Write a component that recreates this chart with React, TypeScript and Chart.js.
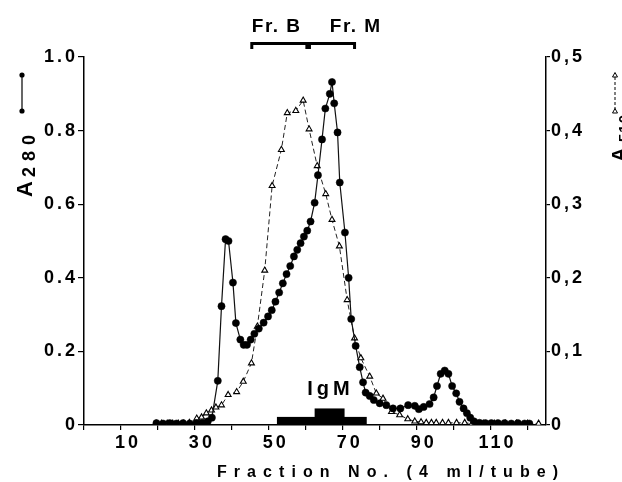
import React, { useEffect, useRef } from "react";
import { Chart, registerables } from "chart.js";

Chart.register(...registerables);

// ---- data ----
const a280X = [19.6, 21.4, 23.2, 25, 26.8, 28.6, 30.4, 32, 33.5, 34.6, 36.2, 37.2, 38.3, 39.1, 40.3, 41.1, 42.3, 43.2, 44.1, 45.1, 46.1, 47.3, 48.6, 49.8, 50.8, 51.8, 52.8, 53.8, 54.8, 55.8, 56.8, 57.7, 58.6, 59.5, 60.4, 61.3, 62.4, 63.3, 64.4, 65.3, 66.5, 67.1, 67.7, 68.6, 69.2, 70.6, 71.6, 72.3, 73.5, 74.6, 75.5, 76.2, 77.3, 78.4, 80, 81.8, 83.6, 85.6, 87.7, 89.5, 90.6, 91.9, 93.5, 94.6, 95.5, 96.5, 97.6, 98.6, 99.6, 100.7, 101.6, 102.7, 103.6, 104.5, 105.5, 107, 108.6, 110.2, 112, 113.8, 115.6, 117.4, 119.2, 120.5];
const a280Y = [0.005, 0.004, 0.005, 0.004, 0.005, 0.004, 0.005, 0.006, 0.01, 0.02, 0.12, 0.323, 0.505, 0.5, 0.387, 0.277, 0.232, 0.218, 0.218, 0.232, 0.248, 0.262, 0.278, 0.295, 0.312, 0.335, 0.36, 0.385, 0.41, 0.432, 0.458, 0.476, 0.494, 0.512, 0.528, 0.553, 0.604, 0.679, 0.776, 0.86, 0.9, 0.932, 0.874, 0.795, 0.659, 0.523, 0.4, 0.288, 0.215, 0.157, 0.116, 0.088, 0.079, 0.068, 0.059, 0.054, 0.045, 0.045, 0.054, 0.052, 0.043, 0.049, 0.057, 0.075, 0.106, 0.139, 0.148, 0.139, 0.106, 0.086, 0.063, 0.045, 0.032, 0.02, 0.01, 0.006, 0.005, 0.005, 0.005, 0.005, 0.004, 0.005, 0.004, 0.004];

const a510X = [19.5, 21, 22.5, 24, 25.5, 27, 28.5, 30.5, 31.8, 33.1, 34.5, 35.7, 37.2, 39, 41.3, 43.1, 45.3, 46.9, 48.9, 50.9, 53.4, 55, 57.3, 59.3, 60.9, 63.1, 65.4, 67.1, 69.1, 71.2, 73.2, 74.9, 77.3, 79.1, 80.9, 83.2, 85.4, 87.6, 89.5, 91.2, 92.6, 94, 95.3, 97, 98.6, 100.8, 103, 105, 108, 111, 114, 117, 120, 123];
const a510Y = [0.002, 0.002, 0.002, 0.002, 0.002, 0.002, 0.003, 0.009, 0.0105, 0.016, 0.02, 0.024, 0.027, 0.041, 0.045, 0.059, 0.084, 0.134, 0.21, 0.325, 0.374, 0.424, 0.427, 0.441, 0.402, 0.352, 0.314, 0.279, 0.243, 0.17, 0.118, 0.091, 0.066, 0.043, 0.036, 0.018, 0.0136, 0.008, 0.005, 0.004, 0.003, 0.003, 0.003, 0.003, 0.003, 0.003, 0.003, 0.002, 0.002, 0.002, 0.002, 0.002, 0.002, 0.002];

const xTickValues = [0, 10, 20, 30, 40, 50, 60, 70, 80, 90, 100, 110, 120];
const xTickLabels = ["", "10", "", "30", "", "50", "", "70", "", "90", "", "110", ""];
const leftTickValues = [0, 0.2, 0.4, 0.6, 0.8, 1.0];
const leftTickLabels = ["0", "0.2", "0.4", "0.6", "0.8", "1.0"];
const rightTickValues = [0, 0.1, 0.2, 0.3, 0.4, 0.5];
const rightTickLabels = ["0", "0,1", "0,2", "0,3", "0,4", "0,5"];

const fractionNames = ["Fr. B", "Fr. M"];
const fractionStart = [45.4, 61.0];
const fractionEnd = [60.3, 73.2];
const fractionLabelX = [45.4, 66.5];

const igmStart = [52.2, 62.4];
const igmEnd = [76.5, 70.5];
const igmTop = [0.022, 0.045];
const igmLabel = "IgM";
const igmLabelX = 60.4;

const xTitle = "Fraction No. (4 ml/tube)";

const FONT = "'Liberation Sans', Arial, Helvetica, sans-serif";

function drawText(ctx: CanvasRenderingContext2D, text: string, x: number, y: number, font: string, spacing: number) {
  ctx.font = font;
  (ctx as any).letterSpacing = spacing + "px";
  ctx.textAlign = "left";
  ctx.textBaseline = "alphabetic";
  ctx.fillText(text, x, y);
}

const decorPlugin = {
  id: "decor",
  beforeDraw(chart: any) {
    (chart.ctx as any).letterSpacing = "3px";
  },
  beforeDatasetsDraw(chart: any) {
    const ctx = chart.ctx as CanvasRenderingContext2D;
    const xs = chart.scales.x;
    const ys = chart.scales.y;
    ctx.save();
    ctx.fillStyle = "#000";
    for (let i = 0; i < igmStart.length; i++) {
      const x0 = xs.getPixelForValue(igmStart[i]);
      const x1 = xs.getPixelForValue(igmEnd[i]);
      const y0 = ys.getPixelForValue(igmTop[i]);
      const y1 = ys.getPixelForValue(0);
      ctx.fillRect(x0, y0, x1 - x0, y1 - y0);
    }
    ctx.restore();
  },
  afterDraw(chart: any) {
    const ctx = chart.ctx as CanvasRenderingContext2D;
    const xs = chart.scales.x;
    const ys = chart.scales.y;
    const top = chart.chartArea.top;
    ctx.save();
    ctx.fillStyle = "#000";
    ctx.strokeStyle = "#000";

    // fraction brackets
    for (let i = 0; i < fractionNames.length; i++) {
      const x0 = xs.getPixelForValue(fractionStart[i]);
      const x1 = xs.getPixelForValue(fractionEnd[i]);
      const yb = top - 13.5;
      ctx.lineWidth = 3;
      ctx.beginPath();
      ctx.moveTo(x0, yb + 5.5);
      ctx.lineTo(x0, yb);
      ctx.lineTo(x1, yb);
      ctx.lineTo(x1, yb + 5.5);
      ctx.stroke();
      drawText(ctx, fractionNames[i], xs.getPixelForValue(fractionLabelX[i]), top - 25, "bold 19px " + FONT, 1.5);
    }

    // IgM label
    drawText(ctx, igmLabel, xs.getPixelForValue(igmLabelX), ys.getPixelForValue(0) - 30, "bold 20px " + FONT, 4);

    // x title
    ctx.font = "bold 16px " + FONT;
    (ctx as any).letterSpacing = "0px";
    const w = ctx.measureText(xTitle).width;
    const sp = (341 - w) / (xTitle.length - 1);
    drawText(ctx, xTitle, 217, 477, "bold 16px " + FONT, sp);

    // left axis title (rotated)
    ctx.save();
    ctx.translate(32, 197);
    ctx.rotate(-Math.PI / 2);
    drawText(ctx, "A", 0, 0, "bold 22px " + FONT, 0);
    drawText(ctx, "280", 20, 3, "bold 18px " + FONT, 6);
    ctx.restore();
    // left legend glyph
    ctx.lineWidth = 1.2;
    ctx.beginPath();
    ctx.moveTo(22, 75);
    ctx.lineTo(22, 111);
    ctx.stroke();
    ctx.beginPath();
    ctx.arc(22, 75, 2.6, 0, Math.PI * 2);
    ctx.arc(22, 111, 2.6, 0, Math.PI * 2);
    ctx.fill();

    // right axis title (rotated)
    ctx.save();
    ctx.translate(626, 162);
    ctx.rotate(-Math.PI / 2);
    drawText(ctx, "A", 0, 0, "bold 20px " + FONT, 0);
    drawText(ctx, "510", 20, 3, "bold 15px " + FONT, 1);
    ctx.restore();
    // right legend glyph
    ctx.setLineDash([3, 2]);
    ctx.lineWidth = 1;
    ctx.beginPath();
    ctx.moveTo(615, 77);
    ctx.lineTo(615, 109);
    ctx.stroke();
    ctx.setLineDash([]);
    const tri = (cx: number, cy: number) => {
      ctx.beginPath();
      ctx.moveTo(cx - 2.5, cy + 2);
      ctx.lineTo(cx + 2.5, cy + 2);
      ctx.lineTo(cx, cy - 2.5);
      ctx.closePath();
      ctx.fillStyle = "#fff";
      ctx.fill();
      ctx.stroke();
    };
    tri(615, 75);
    tri(615, 111);
    ctx.restore();
  },
};

export default function App() {
  const ref = useRef<HTMLCanvasElement | null>(null);
  useEffect(() => {
    document.body.style.margin = "0";
    const canvas = ref.current!;
    const a280 = a280X.map((x, i) => ({ x, y: a280Y[i] }));
    const a510 = a510X.map((x, i) => ({ x, y: a510Y[i] }));
    const tickFont = { family: FONT, size: 18, weight: "bold" as const };
    const chart = new Chart(canvas, {
      type: "line",
      data: {
        datasets: [
          {
            label: "A280",
            data: a280,
            yAxisID: "y",
            borderColor: "#111",
            borderWidth: 1.2,
            pointRadius: 3.6,
            pointBackgroundColor: "#000",
            pointBorderColor: "#000",
            pointBorderWidth: 0.5,
            tension: 0,
          },
          {
            label: "A510",
            data: a510,
            yAxisID: "y1",
            borderColor: "#222",
            borderWidth: 1,
            borderDash: [5, 3],
            pointStyle: "triangle",
            pointRadius: 3.4,
            pointBackgroundColor: "#fff",
            pointBorderColor: "#000",
            pointBorderWidth: 1.1,
            tension: 0,
          },
        ],
      },
      options: {
        animation: false,
        responsive: false,
        devicePixelRatio: 1,
        layout: { padding: { top: 57, left: 0, right: 0, bottom: 0 } },
        plugins: { legend: { display: false }, tooltip: { enabled: false } },
        scales: {
          x: {
            type: "linear",
            min: 0,
            max: 125,
            afterBuildTicks: (s: any) => {
              s.ticks = xTickValues.map((v) => ({ value: v }));
            },
            afterFit: (s: any) => {
              s.height = 57;
            },
            ticks: {
              autoSkip: false,
              maxRotation: 0,
              color: "#000",
              font: tickFont,
              padding: 2,
              labelOffset: 7,
              callback: (_v: any, i: number) => xTickLabels[i],
            },
            grid: { drawOnChartArea: false, tickLength: 5, color: "#000", lineWidth: 1.2 },
            border: { display: true, color: "#000", width: 1.5 },
          },
          y: {
            type: "linear",
            position: "left",
            min: 0,
            max: 1.0,
            afterBuildTicks: (s: any) => {
              s.ticks = leftTickValues.map((v) => ({ value: v }));
            },
            afterFit: (s: any) => {
              s.width = 84;
            },
            ticks: {
              color: "#000",
              font: tickFont,
              padding: 0,
              callback: (_v: any, i: number) => leftTickLabels[i],
            },
            grid: { drawOnChartArea: false, tickLength: 6, color: "#000", lineWidth: 1.2 },
            border: { display: true, color: "#000", width: 1.5 },
          },
          y1: {
            type: "linear",
            position: "right",
            min: 0,
            max: 0.5,
            afterBuildTicks: (s: any) => {
              s.ticks = rightTickValues.map((v) => ({ value: v }));
            },
            afterFit: (s: any) => {
              s.width = 76;
            },
            ticks: {
              color: "#000",
              font: tickFont,
              padding: 1,
              callback: (_v: any, i: number) => rightTickLabels[i],
            },
            grid: { drawOnChartArea: false, tickLength: 4, color: "#000", lineWidth: 1.2 },
            border: { display: true, color: "#000", width: 1.5 },
          },
        },
      },
      plugins: [decorPlugin],
    });
    return () => chart.destroy();
  }, []);
  return (
    <div style={{ width: 622, height: 482 }}>
      <canvas ref={ref} width={622} height={482} style={{ display: "block" }} />
    </div>
  );
}
